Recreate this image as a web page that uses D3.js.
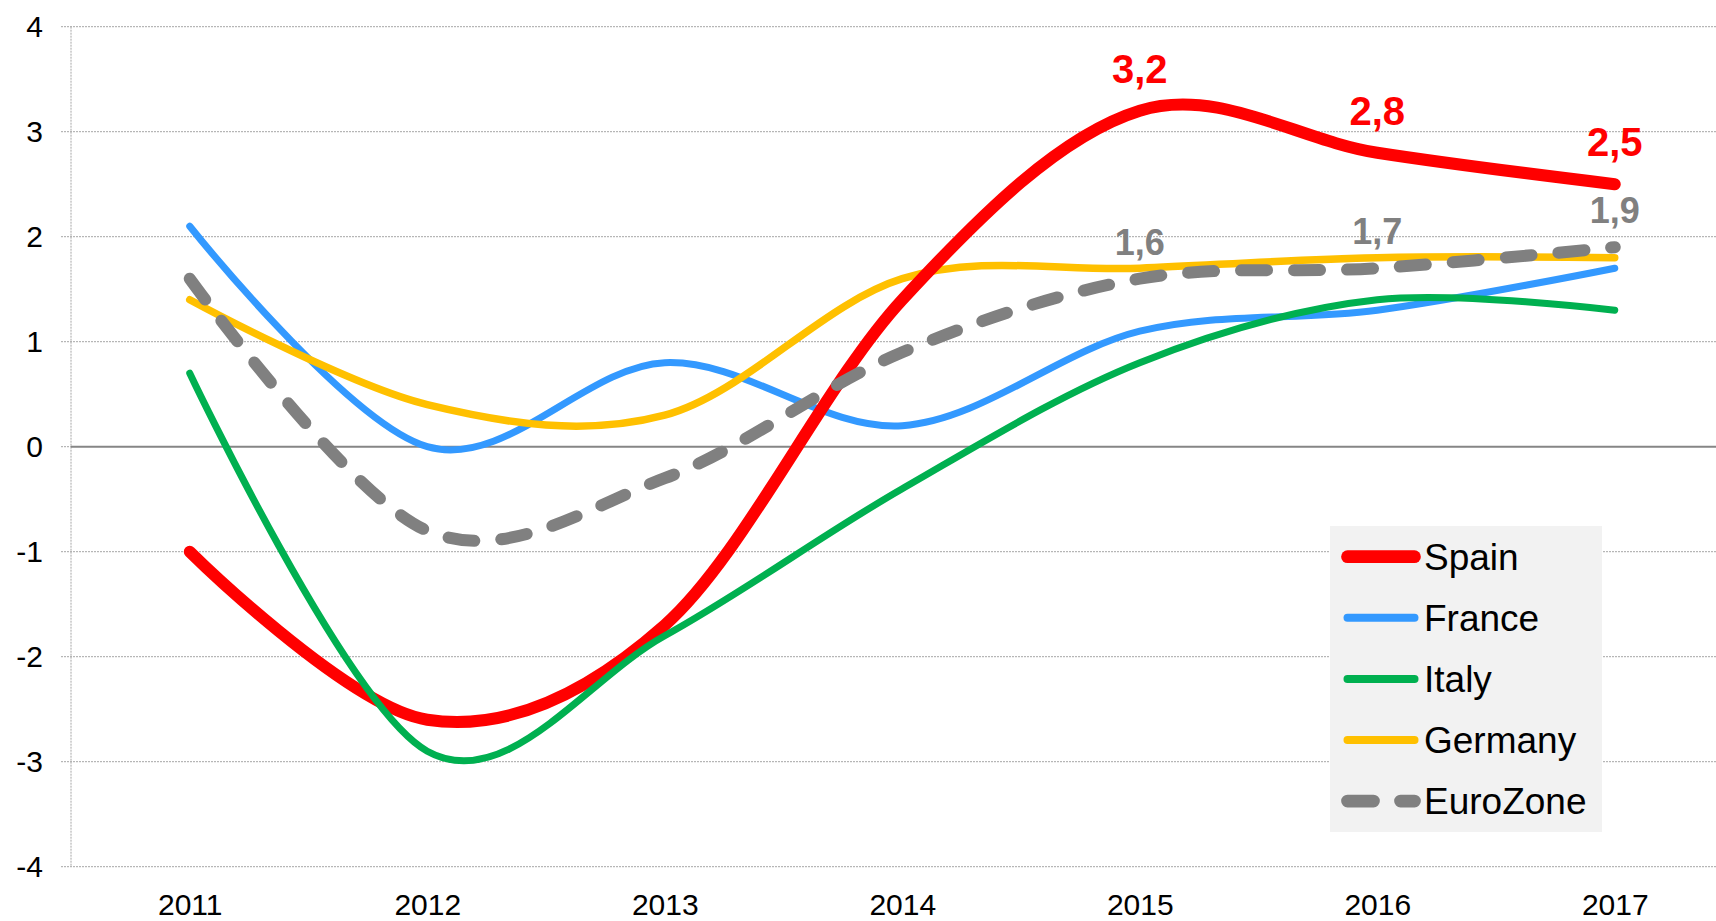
<!DOCTYPE html>
<html>
<head>
<meta charset="utf-8">
<script src="https://cdn.jsdelivr.net/npm/d3@7"></script>
<style>
  body { margin: 0; background: #fff; }
  svg { display: block; font-family: "Liberation Sans", Arial, sans-serif; }
</style>
</head>
<body>
<div class="canvas"></div>
<script>
const years = ['2011', '2012', '2013', '2014', '2015', '2016', '2017'];
const spain = [-1.0, -2.6, -1.7, 1.4, 3.2, 2.8, 2.5];
const france = [2.1, 0.0, 0.8, 0.2, 1.1, 1.3, 1.7];
const italy = [0.7, -2.9, -1.8, -0.4, 0.8, 1.4, 1.3];
const germany = [1.4, 0.4, 0.3, 1.6, 1.7, 1.8, 1.8];
const eurozone = [1.6, -0.8, -0.3, 0.9, 1.6, 1.7, 1.9];
const yTicks = [-4, -3, -2, -1, 0, 1, 2, 3, 4];
const labelYears = ['2015', '2016', '2017'];

const width = 1716;
const height = 921;
const axisX = 71;

// drawing order: bottom to top
const series = [
  { name: 'France', values: france, color: '#3399ff', w: 7 },
  { name: 'Germany', values: germany, color: '#ffc000', w: 7.5 },
  { name: 'Spain', values: spain, color: '#ff0000', w: 12 },
  { name: 'Italy', values: italy, color: '#00b050', w: 7 },
  { name: 'EuroZone', values: eurozone, color: '#808080', w: 12, dash: '26,27' }
];
const legendOrder = ['Spain', 'France', 'Italy', 'Germany', 'EuroZone'];

const svg = d3.select('.canvas')
  .append('svg')
  .attr('width', width)
  .attr('height', height);

const x = d3.scalePoint()
  .domain(years)
  .range([axisX, 1733.5])
  .padding(0.5);

const y = d3.scaleLinear()
  .domain([-4, 4])
  .range([866.7, 26.7]);

// gridlines
svg.append('g')
  .selectAll('line')
  .data(yTicks.filter(d => d !== 0))
  .enter()
  .append('line')
  .attr('x1', axisX - 10)
  .attr('x2', width)
  .attr('y1', d => y(d))
  .attr('y2', d => y(d))
  .attr('stroke', '#a6a6a6')
  .attr('stroke-width', 1)
  .attr('stroke-dasharray', '2,1');

// vertical axis line
svg.append('line')
  .attr('x1', axisX).attr('x2', axisX)
  .attr('y1', y(4)).attr('y2', y(-4))
  .attr('stroke', '#a6a6a6')
  .attr('stroke-width', 1)
  .attr('stroke-dasharray', '2,1');

// zero line
svg.append('line')
  .attr('x1', axisX - 10).attr('x2', axisX)
  .attr('y1', y(0)).attr('y2', y(0))
  .attr('stroke', '#a6a6a6')
  .attr('stroke-dasharray', '2,1');
svg.append('line')
  .attr('x1', axisX).attr('x2', width)
  .attr('y1', y(0)).attr('y2', y(0))
  .attr('stroke', '#868686')
  .attr('stroke-width', 2);

// y axis labels
const yAxisGroup = svg.append('g')
  .attr('transform', `translate(${axisX},0)`)
  .call(d3.axisLeft(y).tickValues(yTicks).tickFormat(d => String(d)).tickSize(0).tickPadding(28));
yAxisGroup.select('.domain').remove();
yAxisGroup.selectAll('text')
  .attr('font-size', '30px')
  .attr('font-family', '"Liberation Sans", Arial, sans-serif')
  .attr('fill', '#000');

// x axis labels
const xAxisGroup = svg.append('g')
  .attr('transform', `translate(0,${y(-4)})`)
  .call(d3.axisBottom(x).tickSize(0).tickPadding(27.5));
xAxisGroup.select('.domain').remove();
xAxisGroup.selectAll('text')
  .attr('font-size', '30px')
  .attr('font-family', '"Liberation Sans", Arial, sans-serif')
  .attr('fill', '#000');

// legend box
const legend = svg.append('g');
legend.append('rect')
  .attr('x', 1330)
  .attr('y', 526)
  .attr('width', 272)
  .attr('height', 306)
  .attr('fill', '#f2f2f2');

// lines
const line = d3.line()
  .x((d, i) => x(years[i]))
  .y(d => y(d))
  .curve(d3.curveCardinal.tension(0));

svg.append('g')
  .selectAll('path')
  .data(series)
  .enter()
  .append('path')
  .attr('d', d => line(d.values))
  .attr('fill', 'none')
  .attr('stroke', d => d.color)
  .attr('stroke-width', d => d.w)
  .attr('stroke-linecap', 'round')
  .attr('stroke-linejoin', 'round')
  .attr('stroke-dasharray', d => d.dash || null);

// data labels
const spainLabels = labelYears.map(yr => ({ yr, v: spain[years.indexOf(yr)] }));
const euroLabels = labelYears.map(yr => ({ yr, v: eurozone[years.indexOf(yr)] }));

svg.append('g')
  .selectAll('text')
  .data(spainLabels)
  .enter()
  .append('text')
  .attr('x', d => x(d.yr))
  .attr('y', d => y(d.v) - 28)
  .attr('text-anchor', 'middle')
  .attr('font-size', '40px')
  .attr('font-weight', 'bold')
  .attr('fill', '#ff0000')
  .text(d => d.v.toFixed(1).replace('.', ','));

svg.append('g')
  .selectAll('text')
  .data(euroLabels)
  .enter()
  .append('text')
  .attr('x', d => x(d.yr))
  .attr('y', d => y(d.v) - 24)
  .attr('text-anchor', 'middle')
  .attr('font-size', '36px')
  .attr('font-weight', 'bold')
  .attr('fill', '#808080')
  .text(d => d.v.toFixed(1).replace('.', ','));

// legend entries
const legendItems = legendOrder.map(n => series.find(s => s.name === n));
const entries = legend.selectAll('g.entry')
  .data(legendItems)
  .enter()
  .append('g')
  .attr('class', 'entry')
  .attr('transform', (d, i) => `translate(0,${556.7 + i * 61.1})`);

entries.append('line')
  .attr('x1', 1347.5)
  .attr('x2', 1414.5)
  .attr('y1', 0)
  .attr('y2', 0)
  .attr('stroke', d => d.color)
  .attr('stroke-width', d => d.w > 10 ? 12.7 : 8)
  .attr('stroke-linecap', 'round')
  .attr('stroke-dasharray', d => d.dash || null);

entries.append('text')
  .attr('x', 1424)
  .attr('y', 0)
  .attr('dy', '0.36em')
  .attr('font-size', '37px')
  .attr('fill', '#000')
  .text(d => d.name);
</script>
</body>
</html>
